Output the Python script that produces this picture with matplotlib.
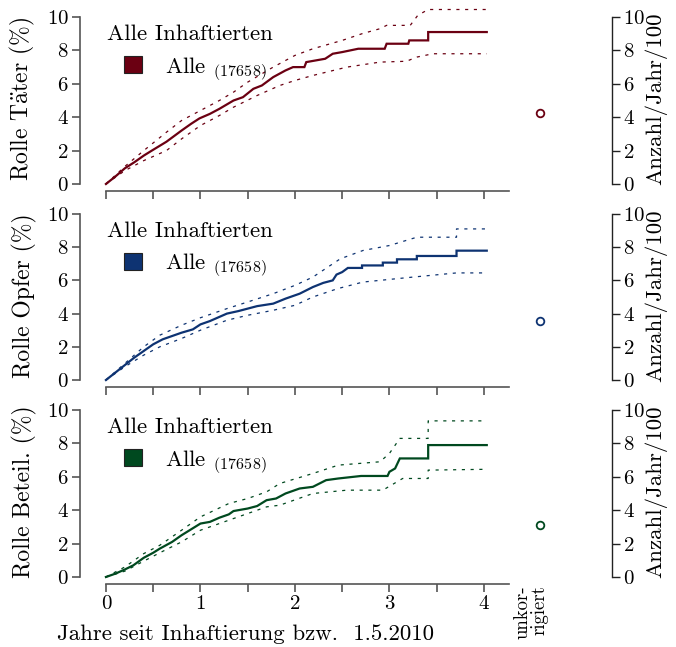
import numpy as np
import matplotlib.pyplot as plt
from matplotlib.patches import Patch

plt.rcParams['font.family'] = ['cmr10', 'DejaVu Serif']
plt.rcParams['mathtext.fontset'] = 'cm'
plt.rcParams['axes.formatter.use_mathtext'] = True

# cumulative incidence, vertices (years, %)
taeter_x = [0, 0.1, 0.2, 0.3, 0.4, 0.5, 0.64, 0.8, 0.9, 0.99, 1.1, 1.2, 1.35, 1.45, 1.56, 1.65, 1.77, 1.9, 1.98,
            2.1, 2.12, 2.32, 2.4, 2.5, 2.67, 2.95, 2.97, 3.2, 3.21, 3.41, 3.41, 4.03]
taeter_y = [0, 0.45, 0.94, 1.3, 1.7, 2.05, 2.53, 3.2, 3.6, 3.93, 4.2, 4.5, 5.0, 5.2, 5.7, 5.9, 6.4, 6.8, 7.0,
            7.0, 7.3, 7.5, 7.8, 7.9, 8.1, 8.1, 8.4, 8.4, 8.6, 8.6, 9.1, 9.1]
taeter_up_x = [0, 0.2, 0.4, 0.64, 0.8, 1.0, 1.2, 1.35, 1.5, 1.77, 2.0, 2.19, 2.5, 2.71, 2.9, 2.97, 3.22, 3.3, 3.41, 4.03]
taeter_up_y = [0, 1.05, 2.0, 3.1, 3.8, 4.4, 5.0, 5.5, 6.1, 7.0, 7.7, 8.1, 8.6, 9.0, 9.3, 9.5, 9.5, 10.1, 10.45, 10.45]
taeter_lo_x = [0, 0.2, 0.4, 0.64, 0.8, 1.0, 1.2, 1.35, 1.6, 1.84, 2.0, 2.19, 2.55, 2.9, 3.18, 3.29, 3.46, 4.03]
taeter_lo_y = [0, 0.8, 1.4, 2.0, 2.7, 3.5, 4.1, 4.6, 5.3, 5.9, 6.2, 6.5, 7.0, 7.3, 7.35, 7.6, 7.8, 7.8]

opfer_x = [0, 0.1, 0.2, 0.3, 0.4, 0.5, 0.6, 0.7, 0.8, 0.92, 1.0, 1.1, 1.2, 1.28, 1.4, 1.5, 1.6, 1.77, 1.9, 2.05,
           2.19, 2.3, 2.4, 2.44, 2.5, 2.56, 2.71, 2.71, 2.93, 2.93, 3.08, 3.08, 3.29, 3.29, 3.71, 3.71, 4.03]
opfer_y = [0, 0.45, 0.9, 1.35, 1.75, 2.15, 2.45, 2.65, 2.85, 3.05, 3.35, 3.55, 3.8, 4.0, 4.15, 4.3, 4.45, 4.6, 4.9, 5.2,
           5.6, 5.85, 6.0, 6.35, 6.5, 6.75, 6.75, 6.9, 6.9, 7.07, 7.07, 7.27, 7.27, 7.47, 7.47, 7.79, 7.79]
opfer_up_x = [0, 0.2, 0.4, 0.57, 0.8, 1.0, 1.28, 1.5, 1.77, 2.0, 2.19, 2.48, 2.72, 3.0, 3.29, 3.71, 3.71, 4.03]
opfer_up_y = [0, 1.0, 2.0, 2.7, 3.3, 3.75, 4.3, 4.7, 5.2, 5.7, 6.2, 7.3, 7.8, 8.1, 8.6, 8.6, 9.1, 9.1]
opfer_lo_x = [0, 0.2, 0.4, 0.57, 0.8, 1.0, 1.28, 1.5, 1.77, 2.0, 2.19, 2.45, 2.72, 3.25, 3.71, 4.03]
opfer_lo_y = [0, 0.8, 1.5, 2.0, 2.5, 3.0, 3.6, 3.9, 4.2, 4.5, 5.0, 5.5, 5.9, 6.2, 6.45, 6.45]

beteil_x = [0, 0.1, 0.2, 0.29, 0.4, 0.5, 0.57, 0.7, 0.8, 0.9, 1.0, 1.1, 1.2, 1.3, 1.35, 1.5, 1.6, 1.7, 1.8, 1.9,
            2.05, 2.19, 2.33, 2.46, 2.7, 2.98, 3.0, 3.06, 3.11, 3.41, 3.41, 4.03]
beteil_y = [0, 0.2, 0.45, 0.7, 1.15, 1.45, 1.7, 2.1, 2.5, 2.85, 3.2, 3.3, 3.55, 3.75, 3.95, 4.1, 4.25, 4.6, 4.7, 5.0,
            5.3, 5.4, 5.8, 5.9, 6.05, 6.05, 6.3, 6.5, 7.1, 7.1, 7.9, 7.9]
beteil_up_x = [0, 0.2, 0.4, 0.57, 0.8, 1.0, 1.3, 1.5, 1.7, 1.84, 2.19, 2.46, 2.9, 3.0, 3.11, 3.41, 3.41, 4.03]
beteil_up_y = [0, 0.6, 1.4, 1.9, 2.8, 3.6, 4.4, 4.7, 5.1, 5.6, 6.2, 6.7, 6.9, 7.4, 8.3, 8.3, 9.35, 9.35]
beteil_lo_x = [0, 0.2, 0.4, 0.57, 0.8, 1.0, 1.3, 1.5, 1.7, 1.84, 2.19, 2.55, 2.93, 3.08, 3.14, 3.41, 3.41, 4.03]
beteil_lo_y = [0, 0.35, 0.95, 1.45, 2.1, 2.8, 3.4, 3.8, 4.2, 4.3, 5.0, 5.2, 5.2, 5.7, 5.9, 5.9, 6.4, 6.45]

# uncorrected rate (count / year / 100) with its error
uncorr = [4.25, 3.55, 3.1]
uncorr_err = [0.2, 0.15, 0.15]

roles = [r'Rolle T$\ddot{\mathrm{a}}$ter (%)', 'Rolle Opfer (%)', 'Rolle Beteil. (%)']
colors = ['#6B0012', '#0E3372', '#00491F']
n_total = 17658

curves = [(taeter_x, taeter_y, taeter_up_x, taeter_up_y, taeter_lo_x, taeter_lo_y),
          (opfer_x, opfer_y, opfer_up_x, opfer_up_y, opfer_lo_x, opfer_lo_y),
          (beteil_x, beteil_y, beteil_up_x, beteil_up_y, beteil_lo_x, beteil_lo_y)]

W, H = 676, 647
fig = plt.figure(figsize=(W / 100, H / 100), dpi=100)

# panel boxes in pixels (top, bottom)
boxes = [(7, 191), (204, 387), (400, 584)]
left_px, right_px = 77.6, 620.0
spine_col = '#555555'
UNCORR_X = 4.59

for i, (top, bot) in enumerate(boxes):
    ax = fig.add_axes([left_px / W, 1 - bot / H, (right_px - left_px) / W, (bot - top) / H])
    ax.set_xlim(-0.3, 5.44)
    ax.set_ylim(-0.42, 10.6)
    x, y, ux, uy, lx, ly = curves[i]
    c = colors[i]
    ax.plot(x, y, color=c, lw=1.6, solid_joinstyle='miter')
    ax.plot(ux, uy, color=c, lw=0.9, ls=(0, (2.5, 4.5)))
    ax.plot(lx, ly, color=c, lw=0.9, ls=(0, (2.5, 4.5)))
    ax.errorbar([UNCORR_X], [uncorr[i]], yerr=[uncorr_err[i]], fmt='o', ms=5.5, mfc='white',
                mec=c, mew=1.3, ecolor=c, elinewidth=1.2, capsize=0)

    for s in ['top', 'right']:
        ax.spines[s].set_visible(False)
    ax.spines['left'].set_position(('data', -0.275))
    ax.spines['left'].set_bounds(0, 10)
    ax.spines['bottom'].set_bounds(0, 4.27)
    for s in ['left', 'bottom']:
        ax.spines[s].set_color(spine_col)
        ax.spines[s].set_linewidth(1.2)
    ax.set_yticks([0, 2, 4, 6, 8, 10])
    ax.set_xticks([0, 0.5, 1, 1.5, 2, 2.5, 3, 3.5, 4])
    if i == 2:
        ax.set_xticklabels(['0', '', '1', '', '2', '', '3', '', '4'])
    else:
        ax.set_xticklabels([])
    ax.tick_params(axis='both', direction='out', length=6, width=1.2, color=spine_col,
                   labelsize=15, pad=2)
    ax.set_ylabel(roles[i], fontsize=17, labelpad=7)

    ax.text(0.055, 0.905, 'Alle Inhaftierten', transform=ax.transAxes, fontsize=16.5,
            ha='left', va='top')
    ax.legend(handles=[Patch(facecolor=c, edgecolor='#222222', lw=0.8,
                             label=r'Alle $_{\mathrm{(' + str(n_total) + ')}}$')],
              loc='upper left', bbox_to_anchor=(0.085, 0.74), frameon=False,
              fontsize=16.5, handlelength=0.8, handleheight=0.8, handletextpad=1.0,
              borderpad=0, borderaxespad=0)

    rax = ax.twinx()
    rax.set_ylim(-0.42, 10.6)
    for s in ['top', 'left', 'bottom']:
        rax.spines[s].set_visible(False)
    rax.spines['right'].set_position(('data', 5.355))
    rax.spines['right'].set_bounds(0, 10)
    rax.spines['right'].set_color('#222222')
    rax.spines['right'].set_linewidth(1.0)
    rax.set_yticks([0, 2, 4, 6, 8, 10])
    rax.tick_params(axis='y', direction='out', length=6, width=1.0, color='#222222',
                    labelsize=15, pad=2)
    rax.set_ylabel('Anzahl/Jahr/100', fontsize=16.5, labelpad=0)

    if i == 2:
        ax.text(4.5, -0.5, 'unkor-\nrigiert', rotation=90, ha='center', va='top',
                multialignment='right', fontsize=13.5, linespacing=0.95)
        ax.set_xlabel('Jahre seit Inhaftierung bzw.  1.5.2010', fontsize=16.5)
        ax.xaxis.set_label_coords(0.31, -0.22)

fig.savefig('out.png', dpi=100)
